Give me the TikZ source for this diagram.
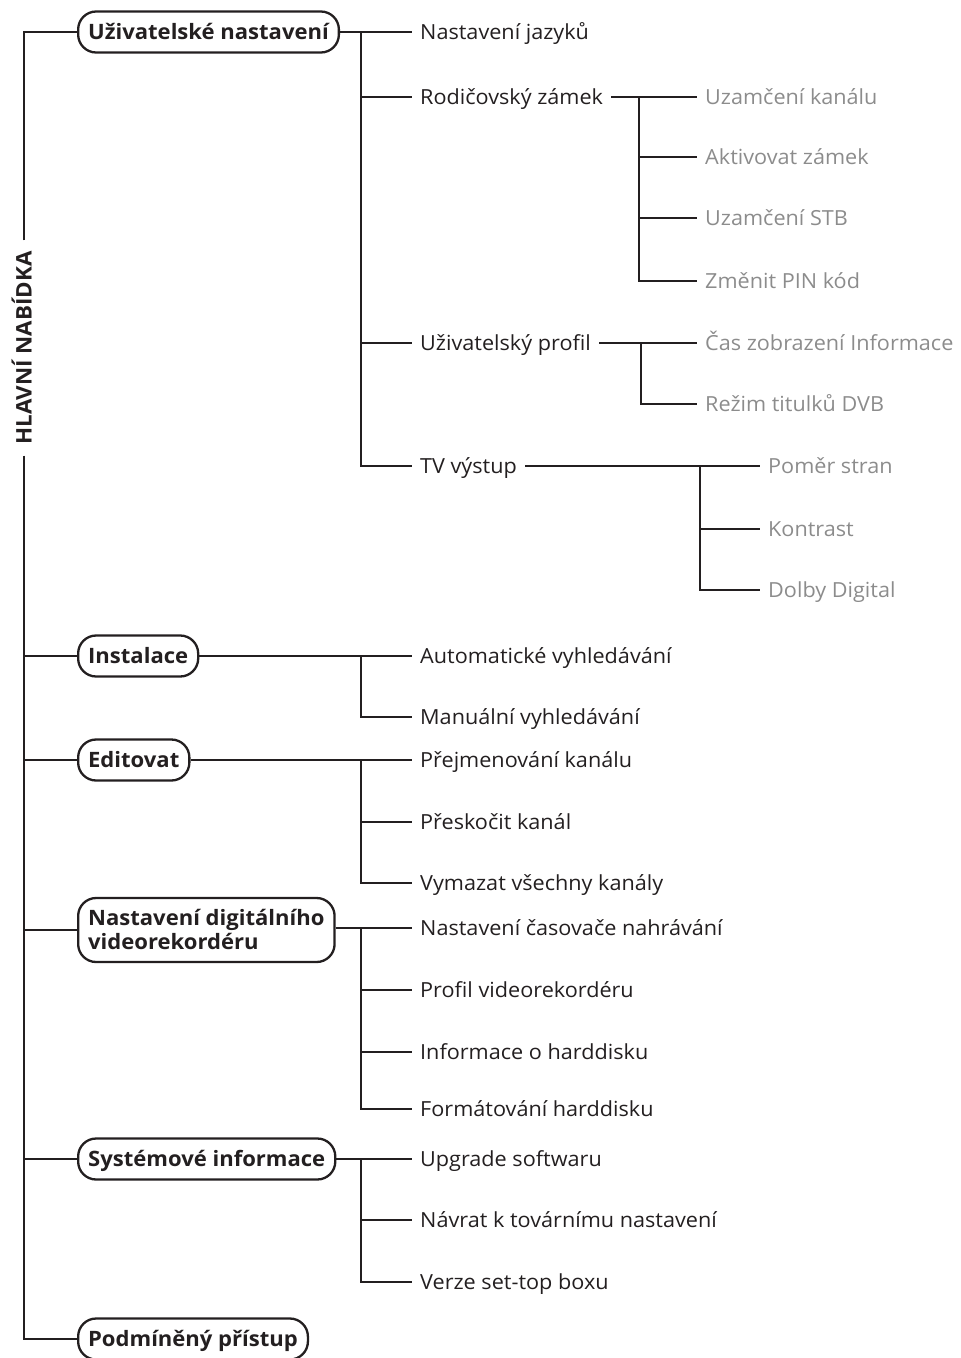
\documentclass[tikz,border=0pt]{standalone}
\usepackage{fontspec}
\setmainfont{Open Sans}[FakeStretch=1.04]
\definecolor{ink}{HTML}{231F20}
\definecolor{lightgray}{HTML}{8C8C8C}
\begin{document}
\begin{tikzpicture}[x=1pt,y=-1pt,
  every node/.style={text=ink},
  conn/.style={draw=ink,line width=2.7pt},
  item/.style={anchor=west,inner xsep=8pt,inner ysep=0pt,font=\fontsize{20.8}{24}\selectfont,text height=14.8pt,text depth=0pt},
  sub/.style={item,text=lightgray},
  cat/.style={draw=ink,line width=2.3pt,rounded corners=18pt,anchor=west,inner xsep=10pt,inner ysep=0pt,
    font=\fontsize{21.2}{24.5}\selectfont\bfseries,text height=15pt,text depth=0pt,minimum height=41pt},
  title/.style={rotate=90,inner xsep=11pt,inner ysep=0pt,font=\fontsize{21.5}{24}\selectfont\bfseries,text height=15.3pt,text depth=0pt}
]
\useasboundingbox (0,0) rectangle (961,1358);

% coordinates for the buses
\coordinate (mainx) at (24,0);
\coordinate (busA) at (361,0);
\coordinate (busB) at (639,0);
\coordinate (busC) at (641,0);
\coordinate (busD) at (700,0);

% main categories
\node[cat] (c1) at (77,32) {Uživatelské nastavení};
\node[cat] (c2) at (77,656) {Instalace};
\node[cat] (c3) at (77,760) {Editovat};
\node[cat,minimum height=64pt,align=left,text height=39pt,text depth=0pt] (c4) at (77,930) {Nastavení digitálního\\videorekordéru};
\node[cat] (c5) at (77,1159) {Systémové informace};
\node[cat] (c6) at (77,1339) {Podmíněný přístup};

\node[title] (t) at (24,348) {HLAVNÍ NABÍDKA};

% main line
\draw[conn] (t.east) -- (c1.west -| mainx) -- (c1.west);
\draw[conn] (t.west) -- (c6.west -| mainx) -- (c6.west);
\foreach \c in {c2,c3,c4,c5} \draw[conn] (\c.west -| mainx) -- (\c.west);

% group 1
\node[item] (a1) at (412,32) {Nastavení jazyků};
\node[item] (a2) at (412,97) {Rodičovský zámek};
\node[item] (a3) at (412,343) {Uživatelský profil};
\node[item] (a4) at (412,466) {TV výstup};
\draw[conn] (c1.east) -- (a1.west);
\draw[conn] (a1.west -| busA) -- (a4.west -| busA) -- (a4.west);
\draw[conn] (a2.west -| busA) -- (a2.west);
\draw[conn] (a3.west -| busA) -- (a3.west);

\node[sub] (b1) at (697,97) {Uzamčení kanálu};
\node[sub] (b2) at (697,157) {Aktivovat zámek};
\node[sub] (b3) at (697,218) {Uzamčení STB};
\node[sub] (b4) at (697,281) {Změnit PIN kód};
\draw[conn] (a2.east) -- (b1.west);
\draw[conn] (b1.west -| busB) -- (b4.west -| busB) -- (b4.west);
\draw[conn] (b2.west -| busB) -- (b2.west);
\draw[conn] (b3.west -| busB) -- (b3.west);

\node[sub] (d1) at (697,343) {Čas zobrazení Informace};
\node[sub] (d2) at (697,404) {Režim titulků DVB};
\draw[conn] (a3.east) -- (d1.west);
\draw[conn] (d1.west -| busC) -- (d2.west -| busC) -- (d2.west);

\node[sub] (e1) at (760,466) {Poměr stran};
\node[sub] (e2) at (760,529) {Kontrast};
\node[sub] (e3) at (760,590) {Dolby Digital};
\draw[conn] (a4.east) -- (e1.west);
\draw[conn] (e1.west -| busD) -- (e3.west -| busD) -- (e3.west);
\draw[conn] (e2.west -| busD) -- (e2.west);

% group 2
\node[item] (f1) at (412,656) {Automatické vyhledávání};
\node[item] (f2) at (412,717) {Manuální vyhledávání};
\draw[conn] (c2.east) -- (f1.west);
\draw[conn] (f1.west -| busA) -- (f2.west -| busA) -- (f2.west);

% group 3
\node[item] (g1) at (412,760) {Přejmenování kanálu};
\node[item] (g2) at (412,822) {Přeskočit kanál};
\node[item] (g3) at (412,883) {Vymazat všechny kanály};
\draw[conn] (c3.east) -- (g1.west);
\draw[conn] (g1.west -| busA) -- (g3.west -| busA) -- (g3.west);
\draw[conn] (g2.west -| busA) -- (g2.west);

% group 4
\node[item] (h1) at (412,928) {Nastavení časovače nahrávání};
\node[item] (h2) at (412,990) {Profil videorekordéru};
\node[item] (h3) at (412,1052) {Informace o harddisku};
\node[item] (h4) at (412,1109) {Formátování harddisku};
\draw[conn] (c4.east |- h1.west) -- (h1.west);
\draw[conn] (h1.west -| busA) -- (h4.west -| busA) -- (h4.west);
\draw[conn] (h2.west -| busA) -- (h2.west);
\draw[conn] (h3.west -| busA) -- (h3.west);

% group 5
\node[item] (k1) at (412,1159) {Upgrade softwaru};
\node[item] (k2) at (412,1220) {Návrat k továrnímu nastavení};
\node[item] (k3) at (412,1282) {Verze set-top boxu};
\draw[conn] (c5.east) -- (k1.west);
\draw[conn] (k1.west -| busA) -- (k3.west -| busA) -- (k3.west);
\draw[conn] (k2.west -| busA) -- (k2.west);
\end{tikzpicture}
\end{document}
